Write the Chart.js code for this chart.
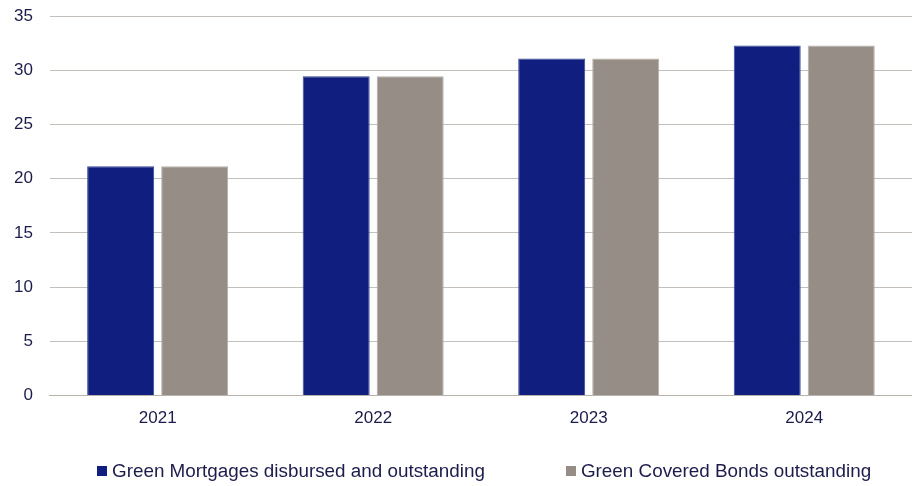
<!DOCTYPE html>
<html lang="en">
<head>
  <meta charset="UTF-8">
  <title>Green Mortgages and Green Covered Bonds</title>
  <script src="https://cdn.jsdelivr.net/npm/chart.js"></script>
  <style>
    html, body {
      margin: 0;
      padding: 0;
      background: #ffffff;
      overflow: hidden;
    }
    .wrap {
      width: 912px;
      height: 486px;
      position: relative;
      overflow: hidden;
    }
    .chart-container {
      position: absolute;
      left: -17px;
      top: -11px;
      width: 929px;
      height: 472px;
    }
    /* leyenda en HTML para controlar el espaciado */
    .legend {
      position: absolute;
      left: 97px;
      top: 459px;
      display: flex;
      font-family: 'Liberation Sans', Arial, sans-serif;
      font-size: 18.85px;
      color: #1c1c4c;
      line-height: 24px;
    }
    .legend .item {
      display: flex;
      align-items: center;
    }
    .legend .item + .item {
      margin-left: 81px;
    }
    .legend .box {
      width: 10px;
      height: 10px;
      margin-right: 5px;
    }
  </style>
</head>
<body>
  <div class="wrap">
    <div class="chart-container">
      <canvas id="chart"></canvas>
    </div>
    <div class="legend" id="legend"></div>
  </div>

  <script>
    // Datos
    var years = ["2021", "2022", "2023", "2024"];
    var greenMortgages = [21.15, 29.45, 31.1, 32.3];
    var greenCoveredBonds = [21.15, 29.45, 31.1, 32.3];
    var seriesNames = ["Green Mortgages disbursed and outstanding", "Green Covered Bonds outstanding"];
    var seriesColors = ["#101f7f", "#958d86"];

    var textColor = "#1c1c4c";
    var fontFamily = "'Liberation Sans', Arial, sans-serif";
    var ctx = document.getElementById("chart").getContext("2d");

    var chart = new Chart(ctx, {
      type: "bar",
      data: {
        labels: years,
        datasets: [{
          label: seriesNames[0],
          data: greenMortgages,
          backgroundColor: seriesColors[0],
          borderColor: "#3a4896",
          borderWidth: 1,
          categoryPercentage: 0.687,
          barPercentage: 0.905
        }, {
          label: seriesNames[1],
          data: greenCoveredBonds,
          backgroundColor: seriesColors[1],
          borderColor: "#b5afaa",
          borderWidth: 1,
          categoryPercentage: 0.687,
          barPercentage: 0.905
        }]
      },
      options: {
        responsive: true,
        maintainAspectRatio: false,
        animation: false,
        layout: {
          padding: { top: 6, right: 0, bottom: 27, left: 14 }
        },
        plugins: {
          tooltip: { enabled: false },
          legend: { display: false }
        },
        scales: {
          x: {
            grid: { display: false },
            border: { display: true, color: "#b9b3ad", width: 1 },
            ticks: {
              color: textColor,
              padding: 5,
              font: { family: fontFamily, size: 17 }
            }
          },
          y: {
            min: 0,
            max: 35,
            ticks: {
              stepSize: 5,
              color: textColor,
              padding: 17,
              font: { family: fontFamily, size: 17 }
            },
            grid: {
              color: "#c3bfba",
              lineWidth: 1,
              drawTicks: false
            },
            border: { display: false }
          }
        }
      }
    });

    // Construir la leyenda
    var legendEl = document.getElementById("legend");
    chart.data.datasets.forEach(function (ds, i) {
      var item = document.createElement("div");
      item.className = "item";
      var box = document.createElement("span");
      box.className = "box";
      box.style.background = seriesColors[i];
      var label = document.createElement("span");
      label.textContent = ds.label;
      item.appendChild(box);
      item.appendChild(label);
      legendEl.appendChild(item);
    });
  </script>
</body>
</html>
